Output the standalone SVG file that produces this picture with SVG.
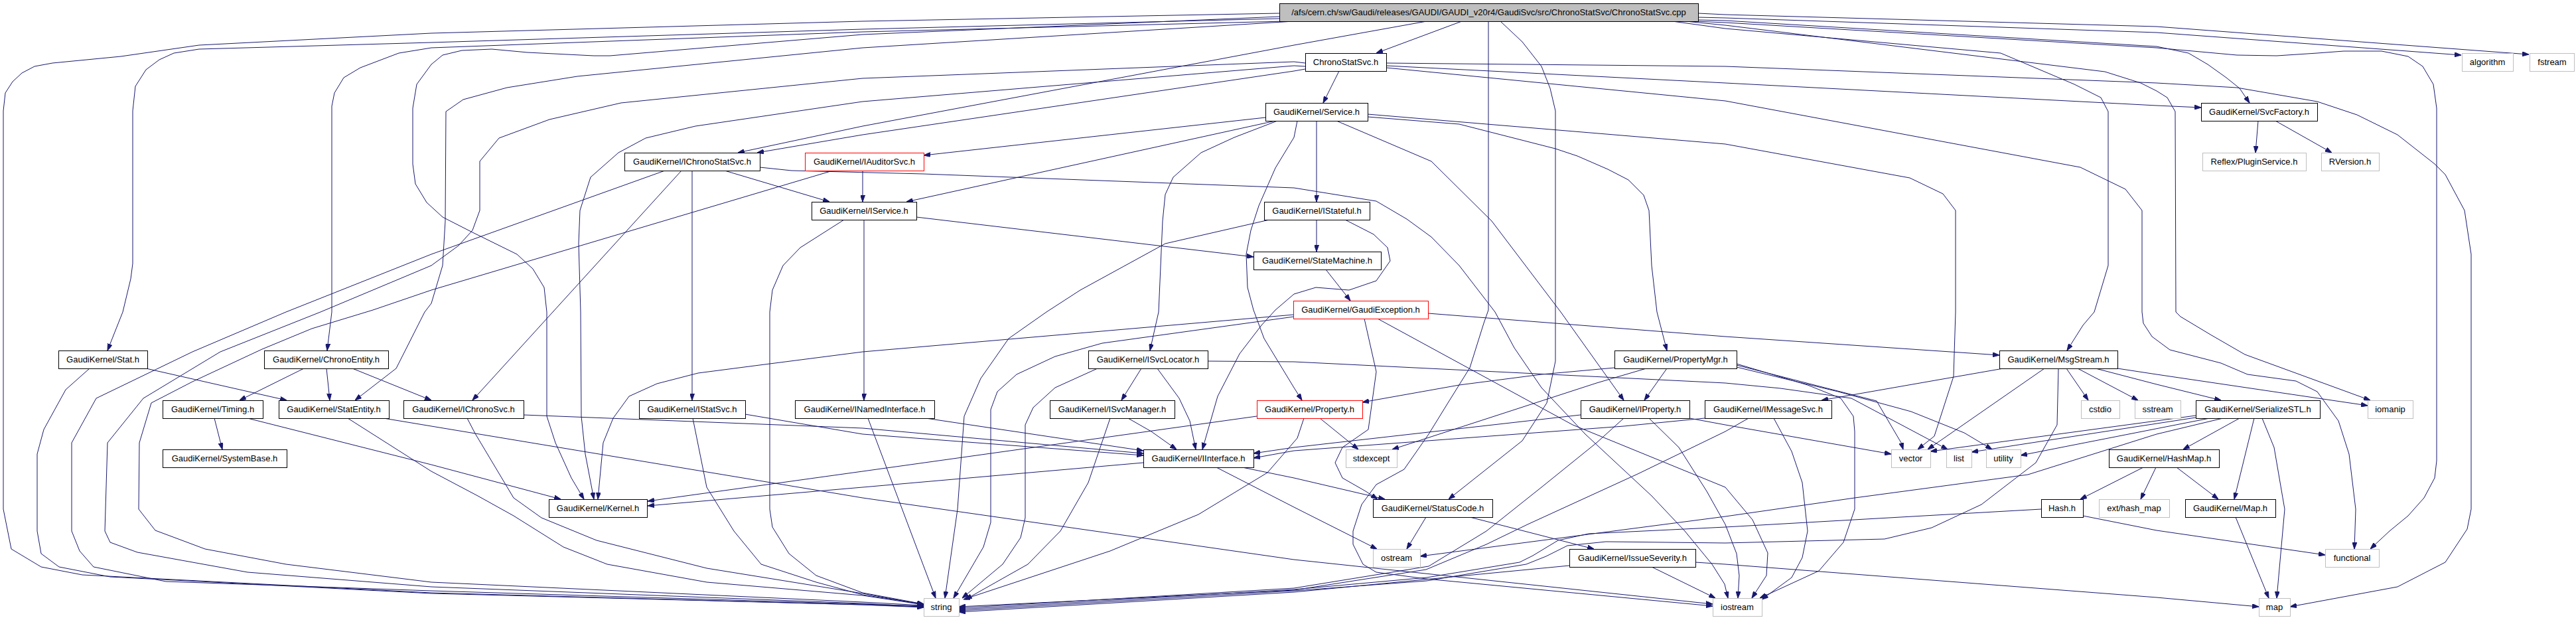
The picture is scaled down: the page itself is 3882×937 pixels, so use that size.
<svg xmlns="http://www.w3.org/2000/svg" width="3882" height="937" viewBox="0 0 3882 937">
<style>
.node rect{fill:#fff;stroke:#000;stroke-width:1}
.sys rect{stroke:#bfbfbf}
.red rect{stroke:#ff0000}
#n_root rect{fill:#bfbfbf}
.node text{font-family:"Liberation Sans",Arial,Helvetica,sans-serif;font-size:13px;text-anchor:middle;fill:#000}
.edges path{fill:none;stroke:#191970;stroke-width:1;marker-end:url(#arr)}
</style>
<defs>
<marker id="arr" viewBox="0 0 10 7" refX="10" refY="3.5" markerWidth="10" markerHeight="7" markerUnits="userSpaceOnUse" orient="auto">
<path d="M0,0 L10,3.5 L0,7 z" fill="#191970" stroke="#191970"/>
</marker>
</defs>
<rect width="3882" height="937" fill="#fff"/>
<g id="edges" class="edges">
<path d="M2203,32 L2074,80"/>
<path d="M2559,26 L2600,27 L3250,49 L3709,83"/>
<path d="M2559,20 L2600,22 L3250,40 L3811,82"/>
<path d="M2559,30 L2600,31 L3250,70 L3298,80 L3327,97 L3355,117 L3375,133 L3390,155"/>
<path d="M2555,32 L2600,34 L3250,72 L3371,83 L3431,84 L3492,80 L3532,77 L3589,77 L3629,85 L3651,100 L3667,127 L3672,163 L3672,694 L3669,720 L3653,750 L3629,777 L3601,800 L3572,827"/>
<path d="M2540,32 L2600,38 L3172,108 L3226,125 L3250,137 L3266,147 L3278,168 L3279,470 L3286,477 L3331,504 L3383,534 L3572,603"/>
<path d="M2520,32 L2600,43 L3015,80 L3126,127 L3166,147 L3177,168 L3177,400 L3156,470 L3139,490 L3115,528"/>
<path d="M2150,32 L1950,68 L1300,190 L1112,230"/>
<path d="M1967,104 L1950,107 L1300,203 L1141,230"/>
<path d="M1928,20 L1300,32 L650,50 L300,68 L182,85 L79,95 L52,100 L33,110 L19,123 L8,140 L5,167 L5,767 L17,827 L62,854 L124,866 L650,893 L1300,911 L1392,915"/>
<path d="M1928,28 L1300,44 L650,64 L300,74 L262,80 L240,90 L220,105 L204,130 L200,167 L200,397 L197,420 L185,470 L162,528"/>
<path d="M1935,32 L1300,48 L650,72 L601,80 L543,102 L518,117 L504,140 L500,160 L500,470 L493,528"/>
<path d="M1928,25 L1300,52 L919,84 L895,84 L795,79 L741,74 L696,76 L667,83 L650,97 L628,127 L622,163 L622,247 L626,277 L643,305 L667,327 L712,350 L779,383 L803,405 L820,433 L824,470 L824,627 L837,667 L861,720 L880,752"/>
<path d="M1950,32 L1300,72 L870,115 L764,132 L698,150 L672,168 L671,333 L667,400 L650,457 L640,470 L597,555 L535,603"/>
<path d="M2261,32 L2294,63 L2323,100 L2336,133 L2344,167 L2344,544 L2331,607 L2294,664 L2183,752"/>
<path d="M2243,32 L2243,467 L2236,487 L2215,554 L2182,607 L2153,654 L2116,707 L2074,730 L2052,760 L2039,800 L2039,820 L2054,850 L2074,862 L2149,872 L2581,913"/>
<path d="M2018,107 L1994,155"/>
<path d="M2089,99 L2600,125 L3250,159 L3317,162"/>
<path d="M2089,95 L2600,100 L3250,125 L3371,132 L3492,153 L3552,173 L3613,203 L3669,247 L3685,263 L3714,317 L3724,383 L3724,767 L3718,797 L3685,847 L3613,884 L3451,914"/>
<path d="M2089,102 L2600,152 L3135,252 L3203,285 L3228,317 L3228,470 L3230,487 L3243,507 L3270,527 L3347,547 L3387,564 L3460,574 L3492,590 L3524,634 L3540,684 L3550,767 L3548,827"/>
<path d="M1907,177 L1392,234"/>
<path d="M1922,182 L1366,304"/>
<path d="M1984,182 L1984,304"/>
<path d="M1925,182 L1860,207 L1810,230 L1768,267 L1756,293 L1752,333 L1746,470 L1733,528"/>
<path d="M1955,182 L1950,207 L1922,253 L1897,310 L1885,347 L1878,383 L1880,433 L1889,467 L1905,510 L1950,584 L1962,603"/>
<path d="M2061,176 L2199,187 L2344,224 L2377,235 L2423,255 L2454,271 L2477,294 L2485,317 L2489,400 L2497,470 L2512,528"/>
<path d="M2061,172 L2600,217 L2878,268 L2928,292 L2947,317 L2947,470 L2944,567 L2915,657 L2890,677"/>
<path d="M2014,182 L2157,243 L2248,333 L2352,470 L2447,603"/>
<path d="M1027,257 L712,603"/>
<path d="M1043,257 L1043,603"/>
<path d="M1092,257 L1250,304"/>
<path d="M1002,257 L650,383 L431,470 L290,530 L145,600 L108,667 L108,800 L120,830 L141,854 L250,876 L650,890 L1300,910 L1392,913"/>
<path d="M1145,252 L1193,257 L1392,262 L1950,283 L2074,303 L2120,330 L2157,357 L2199,400 L2253,470 L2282,524 L2323,584 L2389,654 L2489,747 L2539,800 L2580,850 L2599,880 L2604,901"/>
<path d="M1300,257 L1300,304"/>
<path d="M1255,257 L650,437 L562,467 L470,495 L395,526 L290,575 L228,607 L210,667 L209,767 L234,799 L309,827 L431,850 L650,877 L1300,907 L1392,912"/>
<path d="M1967,95 L1950,93 L1300,118 L936,155 L828,180 L752,208 L723,243 L723,317 L712,347 L691,370 L650,400 L483,470 L332,530 L216,600 L162,667 L158,800 L166,817 L207,832 L373,862 L650,884 L1300,909 L1392,914"/>
<path d="M1967,100 L1950,99 L1300,153 L1048,190 L973,208 L932,230 L890,267 L874,317 L872,367 L875,470 L876,627 L882,684 L895,752"/>
<path d="M220,555 L432,603"/>
<path d="M135,555 L99,587 L66,647 L56,684 L56,800 L62,834 L89,854 L166,869 L650,894 L1300,911 L1392,914"/>
<path d="M458,555 L361,603"/>
<path d="M492,555 L497,603"/>
<path d="M531,555 L650,603"/>
<path d="M323,630 L335,677"/>
<path d="M373,630 L650,700 L845,752"/>
<path d="M524,630 L650,710 L720,747 L774,777 L849,824 L915,850 L1065,877 L1300,897 L1392,911"/>
<path d="M578,630 L650,642 L1300,750 L1950,843 L2581,910"/>
<path d="M789,625 L1300,645 L1723,683"/>
<path d="M704,630 L716,653 L774,750 L816,780 L899,814 L1065,856 L1300,894 L1392,911"/>
<path d="M1123,624 L1300,654 L1723,686"/>
<path d="M1044,630 L1065,734 L1106,800 L1147,850 L1230,877 L1300,896 L1392,910"/>
<path d="M1395,630 L1723,679"/>
<path d="M1308,630 L1410,901"/>
<path d="M1302,331 L1302,603"/>
<path d="M1381,327 L1889,387"/>
<path d="M1272,331 L1206,373 L1180,400 L1164,437 L1160,470 L1160,767 L1164,794 L1189,834 L1230,867 L1300,893 L1392,910"/>
<path d="M1984,331 L1984,379"/>
<path d="M2027,331 L2070,353 L2091,373 L2095,393 L2074,423 L2033,437 L1983,433 L1950,443 L1922,467 L1901,490 L1868,533 L1835,597 L1812,677"/>
<path d="M1913,331 L1756,367 L1628,437 L1577,470 L1520,510 L1478,570 L1453,627 L1443,767 L1424,901"/>
<path d="M1998,406 L2035,453"/>
<path d="M2152,472 L2600,507 L3013,535"/>
<path d="M1950,474 L1300,530 L1160,548 L1052,562 L990,578 L948,597 L924,630 L909,667 L901,752"/>
<path d="M1950,477 L1661,517 L1590,537 L1532,564 L1503,590 L1493,617 L1493,787 L1482,824 L1437,901"/>
<path d="M2056,480 L2074,560 L2062,647 L2023,674 L2012,697 L2023,720 L2058,740 L2076,752"/>
<path d="M2076,480 L2370,640 L2600,734 L2641,783 L2664,833 L2662,867 L2640,901"/>
<path d="M1720,555 L1690,603"/>
<path d="M1744,555 L1777,600 L1793,634 L1802,677"/>
<path d="M1654,555 L1590,584 L1557,614 L1545,640 L1545,780 L1538,810 L1511,850 L1450,901"/>
<path d="M1820,544 L1950,545 L2600,577 L2683,585 L2790,600 L2935,677"/>
<path d="M1700,630 L1735,650 L1773,677"/>
<path d="M1673,630 L1640,727 L1598,800 L1549,850 L1455,903"/>
<path d="M2512,555 L2478,603"/>
<path d="M2433,554 L2323,564 L2199,580 L2053,606"/>
<path d="M2481,555 L2406,577 L2098,677"/>
<path d="M2617,550 L2828,604 L2865,667 L2868,677"/>
<path d="M2617,553 L2770,590 L2880,620 L2960,652 L3002,677"/>
<path d="M2617,548 L2724,580 L2774,600 L2793,627 L2795,650 L2795,767 L2778,817 L2741,860 L2652,901"/>
<path d="M2382,625 L1950,674 L1889,683"/>
<path d="M2546,630 L2600,640 L2850,684"/>
<path d="M2447,630 L2406,667 L2323,734 L2240,800 L2153,853 L1950,886 L1445,916"/>
<path d="M2485,630 L2530,674 L2572,740 L2600,790 L2617,834 L2621,867 L2619,901"/>
<path d="M2569,630 L2447,642 L1950,679 L1889,690"/>
<path d="M2635,630 L2600,650 L2468,714 L2302,790 L2240,820 L2149,858 L1950,889 L1445,914"/>
<path d="M2673,630 L2700,680 L2716,727 L2724,800 L2716,840 L2700,870 L2655,903"/>
<path d="M3019,555 L2745,603"/>
<path d="M3081,555 L2905,677"/>
<path d="M3114,555 L3147,603"/>
<path d="M3131,555 L3222,603"/>
<path d="M3158,555 L3250,579 L3347,603"/>
<path d="M3191,555 L3250,564 L3568,611"/>
<path d="M3102,555 L3100,640 L3068,697 L2986,760 L2911,795 L2840,812 L2600,818 L2420,816 L2362,822 L2330,838 L2300,850 L2150,875 L1950,890 L1445,920"/>
<path d="M3375,630 L3290,677"/>
<path d="M3397,630 L3367,752"/>
<path d="M3409,630 L3427,674 L3443,767 L3431,901"/>
<path d="M3309,626 L2909,680"/>
<path d="M3309,629 L2971,681"/>
<path d="M3330,630 L3045,686"/>
<path d="M3350,630 L3250,654 L3056,715 L2795,750 L2600,778 L2140,838"/>
<path d="M3230,704 L3135,752"/>
<path d="M3249,704 L3226,752"/>
<path d="M3280,704 L3343,752"/>
<path d="M3369,779 L3419,901"/>
<path d="M3139,777 L3250,799 L3504,836"/>
<path d="M3076,767 L2600,794 L2394,804 L2348,814 L2310,837 L2290,847 L2150,870 L1950,888 L1445,918"/>
<path d="M1723,697 L1300,734 L976,762"/>
<path d="M1872,704 L1950,720 L2087,752"/>
<path d="M1833,704 L1950,764 L2075,827"/>
<path d="M1894,627 L1300,710 L976,755"/>
<path d="M1989,630 L2047,677"/>
<path d="M1965,630 L1955,660 L1910,712 L1806,775 L1673,830 L1452,903"/>
<path d="M2149,779 L2120,827"/>
<path d="M2215,779 L2402,827"/>
<path d="M2489,854 L2585,901"/>
<path d="M2555,847 L2600,850 L3250,900 L3404,914"/>
<path d="M2365,852 L1950,892 L1445,922"/>
<path d="M3403,182 L3399,230"/>
<path d="M3429,182 L3514,230"/>
</g>
<g id="n_root" class="node"><rect x="1928.5" y="5.5" width="631" height="27"/><text x="2243.5" y="23">/afs/cern.ch/sw/Gaudi/releases/GAUDI/GAUDI_v20r4/GaudiSvc/src/ChronoStatSvc/ChronoStatSvc.cpp</text></g>
<g id="n_chronostatsvc_h" class="node"><rect x="1967.5" y="80.5" width="122" height="27"/><text x="2028" y="98">ChronoStatSvc.h</text></g>
<g id="n_algorithm" class="node sys"><rect x="3710.5" y="80.5" width="77" height="27"/><text x="3748.5" y="98">algorithm</text></g>
<g id="n_fstream" class="node sys"><rect x="3812.5" y="80.5" width="67" height="27"/><text x="3846" y="98">fstream</text></g>
<g id="n_service" class="node"><rect x="1907.5" y="155.5" width="154" height="27"/><text x="1984" y="173">GaudiKernel/Service.h</text></g>
<g id="n_svcfactory" class="node"><rect x="3317.5" y="155.5" width="175" height="27"/><text x="3404.5" y="173">GaudiKernel/SvcFactory.h</text></g>
<g id="n_ichronostatsvc" class="node"><rect x="941.5" y="230.5" width="204" height="27"/><text x="1043" y="248">GaudiKernel/IChronoStatSvc.h</text></g>
<g id="n_iauditorsvc" class="node red"><rect x="1213.5" y="230.5" width="179" height="27"/><text x="1302.5" y="248">GaudiKernel/IAuditorSvc.h</text></g>
<g id="n_pluginservice" class="node sys"><rect x="3319.5" y="230.5" width="156" height="27"/><text x="3397" y="248">Reflex/PluginService.h</text></g>
<g id="n_rversion" class="node sys"><rect x="3498.5" y="230.5" width="87" height="27"/><text x="3541.5" y="248">RVersion.h</text></g>
<g id="n_iservice" class="node"><rect x="1223.5" y="304.5" width="158" height="27"/><text x="1302" y="322">GaudiKernel/IService.h</text></g>
<g id="n_istateful" class="node"><rect x="1905.5" y="304.5" width="159" height="27"/><text x="1984.5" y="322">GaudiKernel/IStateful.h</text></g>
<g id="n_statemachine" class="node"><rect x="1889.5" y="379.5" width="192" height="27"/><text x="1985" y="397">GaudiKernel/StateMachine.h</text></g>
<g id="n_gaudiexception" class="node red"><rect x="1949.5" y="453.5" width="203" height="27"/><text x="2050.5" y="471">GaudiKernel/GaudiException.h</text></g>
<g id="n_stat" class="node"><rect x="88.5" y="528.5" width="134" height="27"/><text x="155" y="546">GaudiKernel/Stat.h</text></g>
<g id="n_chronoentity" class="node"><rect x="398.5" y="528.5" width="187" height="27"/><text x="491.5" y="546">GaudiKernel/ChronoEntity.h</text></g>
<g id="n_isvclocator" class="node"><rect x="1640.5" y="528.5" width="180" height="27"/><text x="1730" y="546">GaudiKernel/ISvcLocator.h</text></g>
<g id="n_propertymgr" class="node"><rect x="2433.5" y="528.5" width="184" height="27"/><text x="2525" y="546">GaudiKernel/PropertyMgr.h</text></g>
<g id="n_msgstream" class="node"><rect x="3013.5" y="528.5" width="178" height="27"/><text x="3102" y="546">GaudiKernel/MsgStream.h</text></g>
<g id="n_timing" class="node"><rect x="245.5" y="603.5" width="151" height="27"/><text x="320.5" y="621">GaudiKernel/Timing.h</text></g>
<g id="n_statentity" class="node"><rect x="420.5" y="603.5" width="166" height="27"/><text x="503" y="621">GaudiKernel/StatEntity.h</text></g>
<g id="n_ichronosvc" class="node"><rect x="608.5" y="603.5" width="181" height="27"/><text x="698.5" y="621">GaudiKernel/IChronoSvc.h</text></g>
<g id="n_istatsvc" class="node"><rect x="963.5" y="603.5" width="160" height="27"/><text x="1043" y="621">GaudiKernel/IStatSvc.h</text></g>
<g id="n_inamedinterface" class="node"><rect x="1198.5" y="603.5" width="210" height="27"/><text x="1303" y="621">GaudiKernel/INamedInterface.h</text></g>
<g id="n_isvcmanager" class="node"><rect x="1582.5" y="603.5" width="188" height="27"/><text x="1676" y="621">GaudiKernel/ISvcManager.h</text></g>
<g id="n_property" class="node red"><rect x="1894.5" y="603.5" width="159" height="27"/><text x="1973.5" y="621">GaudiKernel/Property.h</text></g>
<g id="n_iproperty" class="node"><rect x="2382.5" y="603.5" width="164" height="27"/><text x="2464" y="621">GaudiKernel/IProperty.h</text></g>
<g id="n_imessagesvc" class="node"><rect x="2569.5" y="603.5" width="191" height="27"/><text x="2664.5" y="621">GaudiKernel/IMessageSvc.h</text></g>
<g id="n_cstdio" class="node sys"><rect x="3136.5" y="603.5" width="58" height="27"/><text x="3165" y="621">cstdio</text></g>
<g id="n_sstream" class="node sys"><rect x="3217.5" y="603.5" width="69" height="27"/><text x="3251.5" y="621">sstream</text></g>
<g id="n_serializestl" class="node"><rect x="3309.5" y="603.5" width="187" height="27"/><text x="3402.5" y="621">GaudiKernel/SerializeSTL.h</text></g>
<g id="n_iomanip" class="node sys"><rect x="3568.5" y="603.5" width="68" height="27"/><text x="3602" y="621">iomanip</text></g>
<g id="n_systembase" class="node"><rect x="245.5" y="677.5" width="187" height="27"/><text x="338.5" y="695">GaudiKernel/SystemBase.h</text></g>
<g id="n_iinterface" class="node"><rect x="1723.5" y="677.5" width="166" height="27"/><text x="1806" y="695">GaudiKernel/IInterface.h</text></g>
<g id="n_stdexcept" class="node sys"><rect x="2028.5" y="677.5" width="77" height="27"/><text x="2066.5" y="695">stdexcept</text></g>
<g id="n_vector" class="node sys"><rect x="2850.5" y="677.5" width="59" height="27"/><text x="2879.5" y="695">vector</text></g>
<g id="n_list" class="node sys"><rect x="2933.5" y="677.5" width="38" height="27"/><text x="2952" y="695">list</text></g>
<g id="n_utility" class="node sys"><rect x="2993.5" y="677.5" width="52" height="27"/><text x="3019" y="695">utility</text></g>
<g id="n_hashmap" class="node"><rect x="3178.5" y="677.5" width="166" height="27"/><text x="3261" y="695">GaudiKernel/HashMap.h</text></g>
<g id="n_kernel" class="node"><rect x="827.5" y="752.5" width="148" height="27"/><text x="901" y="770">GaudiKernel/Kernel.h</text></g>
<g id="n_statuscode" class="node"><rect x="2069.5" y="752.5" width="180" height="27"/><text x="2159" y="770">GaudiKernel/StatusCode.h</text></g>
<g id="n_hash" class="node"><rect x="3076.5" y="752.5" width="63" height="27"/><text x="3107.5" y="770">Hash.h</text></g>
<g id="n_ext_hash_map" class="node sys"><rect x="3163.5" y="752.5" width="106" height="27"/><text x="3216" y="770">ext/hash_map</text></g>
<g id="n_map_h" class="node"><rect x="3293.5" y="752.5" width="136" height="27"/><text x="3361" y="770">GaudiKernel/Map.h</text></g>
<g id="n_ostream" class="node sys"><rect x="2069.5" y="827.5" width="71" height="27"/><text x="2104.5" y="845">ostream</text></g>
<g id="n_issueseverity" class="node"><rect x="2365.5" y="827.5" width="190" height="27"/><text x="2460" y="845">GaudiKernel/IssueSeverity.h</text></g>
<g id="n_functional" class="node sys"><rect x="3504.5" y="827.5" width="81" height="27"/><text x="3544.5" y="845">functional</text></g>
<g id="n_string" class="node sys"><rect x="1392.5" y="901.5" width="53" height="27"/><text x="1418.5" y="919">string</text></g>
<g id="n_iostream" class="node sys"><rect x="2581.5" y="901.5" width="74" height="27"/><text x="2618" y="919">iostream</text></g>
<g id="n_map" class="node sys"><rect x="3404.5" y="901.5" width="47" height="27"/><text x="3427.5" y="919">map</text></g>
</svg>
